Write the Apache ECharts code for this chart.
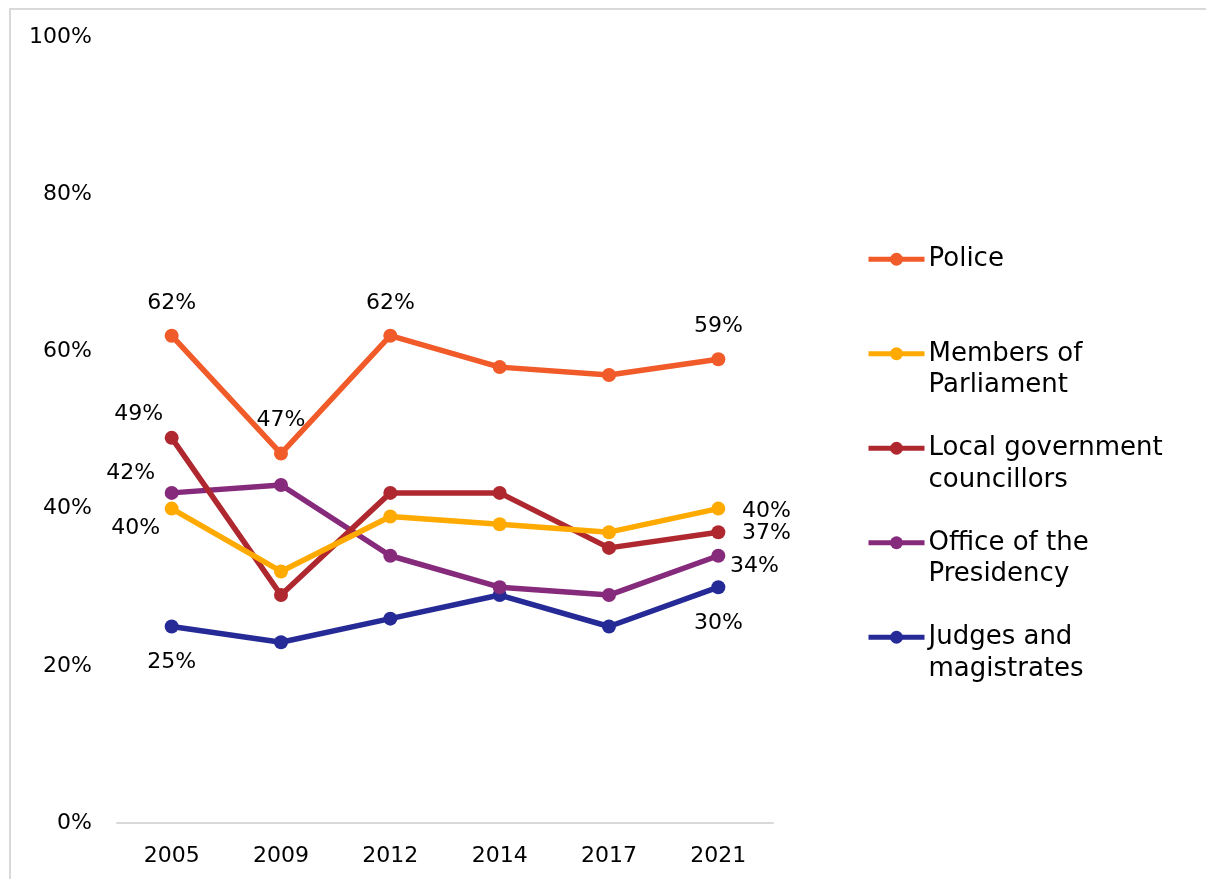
<!DOCTYPE html>
<html>
<head>
<meta charset="utf-8">
<script src="https://cdn.jsdelivr.net/npm/echarts@6/dist/echarts.min.js"></script>
<style>
html,body{margin:0;padding:0;background:#fff;}
#chart{width:1206px;height:879px;}
</style>
</head>
<body>
<div id="chart"></div>
<script>
// ---- data ----
const years = ['2005', '2009', '2012', '2014', '2017', '2021'];
const seriesNames = ['Police', 'Members of Parliament', 'Local government councillors', 'Office of the Presidency', 'Judges and magistrates'];
const legendLabels = ['Police', 'Members of\nParliament', 'Local government\ncouncillors', 'Office of the\nPresidency', 'Judges and\nmagistrates'];
const police = [62, 47, 62, 58, 57, 59];
const parliament = [40, 32, 39, 38, 37, 40];
const localGov = [49, 29, 42, 42, 35, 37];
const presidency = [42, 43, 34, 30, 29, 34];
const judges = [25, 23, 26, 29, 25, 30];
const yTicks = [0, 20, 40, 60, 80, 100];

// ---- styling ----
const colors = ['#F15A29', '#FFAA00', '#B0282F', '#862A7B', '#262A97'];
const allValues = [police, parliament, localGov, presidency, judges];
// label offsets (px) per series per shown point index
const labelOffsets = [
  {0: [0, -32], 1: [0, -33], 2: [0, -32], 5: [0, -33]},
  {0: [-36, 20], 5: [48, 3]},
  {0: [-33, -24], 5: [48, 1]},
  {0: [-41, -20], 5: [36, 11]},
  {0: [0, 36], 5: [0, 36]}
];
const FONT = 'DejaVu Sans';

const series = seriesNames.map((name, si) => ({
  name: name,
  type: 'line',
  symbol: 'circle',
  symbolSize: 14,
  color: colors[si],
  lineStyle: {width: 5.5, color: colors[si]},
  itemStyle: {color: colors[si]},
  z: 10 - si,
  data: allValues[si].map((v, i) => {
    const off = labelOffsets[si][i];
    return {
      value: v,
      label: off ? {
        show: true, position: 'inside', offset: off,
        formatter: v + '%', color: '#000', fontSize: 22, fontFamily: FONT
      } : {show: false}
    };
  })
}));

const chart = echarts.init(document.getElementById('chart'));
chart.setOption({
  animation: false,
  backgroundColor: '#fff',
  graphic: [{
    type: 'rect', silent: true, z: -1,
    shape: {x: 10, y: 9, width: 1400, height: 1000},
    style: {fill: 'none', stroke: '#d9d9d9', lineWidth: 2}
  }],
  grid: {left: 117, right: 433, top: 37, bottom: 56, containLabel: false},
  xAxis: {
    type: 'category',
    data: years,
    boundaryGap: true,
    axisLine: {show: true, lineStyle: {color: '#d9d9d9', width: 2}},
    axisTick: {show: false},
    axisLabel: {color: '#000', fontSize: 22, fontFamily: FONT, margin: 22}
  },
  yAxis: {
    type: 'value',
    min: yTicks[0], max: yTicks[yTicks.length - 1], interval: 20,
    splitLine: {show: false},
    axisLine: {show: false},
    axisTick: {show: false},
    axisLabel: {color: '#000', fontSize: 22, fontFamily: FONT, margin: 25, formatter: '{value}%'}
  },
  legend: {
    orient: 'vertical',
    left: 866,
    top: 212,
    padding: 0,
    itemWidth: 56,
    itemHeight: 16,
    itemGap: 0,
    lineStyle: {width: 5},
    data: seriesNames,
    formatter: function (name) {
      const idx = seriesNames.indexOf(name);
      const lbl = legendLabels[idx];
      return lbl.indexOf('\n') >= 0 ? ' \n' + lbl : ' \n' + lbl + '\n ';
    },
    textStyle: {color: '#000', fontSize: 26, fontFamily: FONT, lineHeight: 31.5, padding: [0, 0, 0, -1]}
  },
  series: series
});
</script>
</body>
</html>
